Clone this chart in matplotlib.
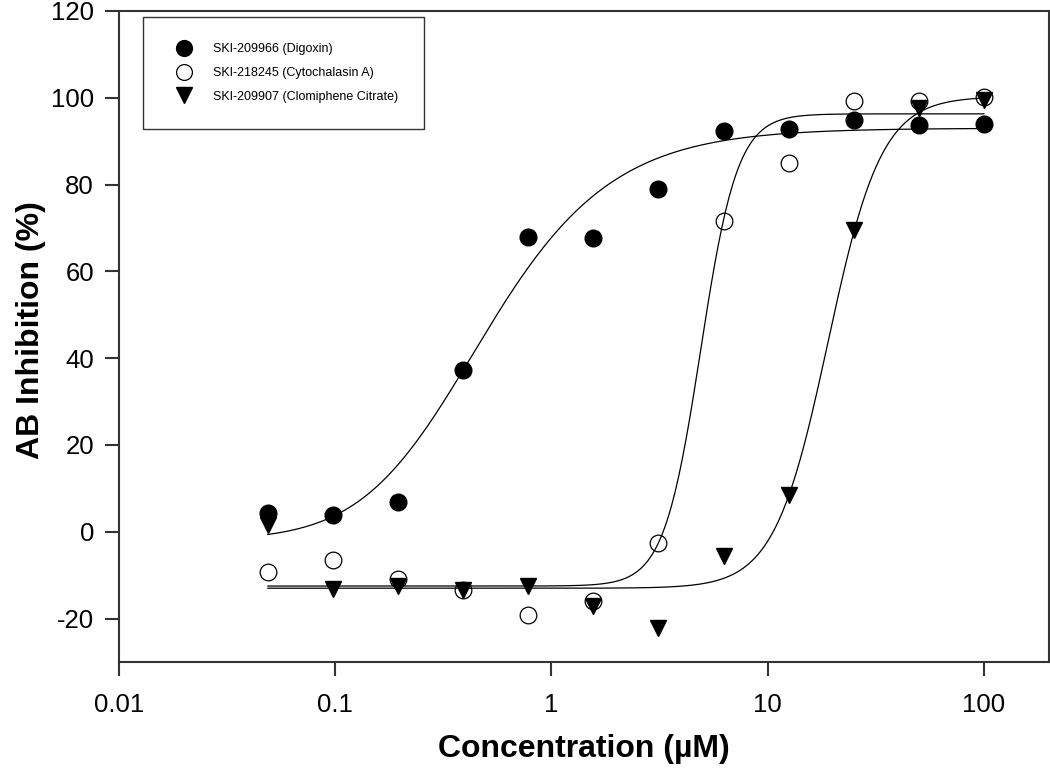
import numpy as np
import matplotlib
matplotlib.use("Agg")
import matplotlib.pyplot as plt

# concentrations (uM), two-fold dilution series
conc = [0.0488, 0.0977, 0.195, 0.39, 0.78, 1.5625, 3.125, 6.25, 12.5, 25, 50, 100]

digoxin = [4.4, 3.8, 6.8, 37.2, 68.0, 67.7, 79.0, 92.3, 92.9, 94.8, 93.8, 94.0]
cytochalasin = [-9.3, -6.4, -10.8, -13.5, -19.1, -16.0, -2.6, 71.6, 84.9, 99.2, 99.2, 100.2]
clomiphene = [1.5, -13.1, -12.4, -13.5, -12.5, -17.0, -22.2, -5.5, 8.4, 69.6, 97.6, 99.6]

labels = ["SKI-209966 (Digoxin)", "SKI-218245 (Cytochalasin A)",
          "SKI-209907 (Clomiphene Citrate)"]

# sigmoid fit parameters: bottom, top, ec50, hill, asym
fit_digoxin = [-2.0, 93.0, 0.275, 1.3, 1.8]
fit_cytochalasin = [-12.5, 96.3, 4.9, 5.1, 1.0]
fit_clomiphene = [-13.0, 100.3, 19.0, 3.5, 1.0]


def sigmoid(x, p):
    bottom, top, ec50, hill, asym = p
    return bottom + (top - bottom) / (1.0 + (ec50 / x) ** hill) ** asym


plt.rcParams['font.family'] = ['Liberation Sans', 'DejaVu Sans']
plt.rcParams['axes.unicode_minus'] = False

fig = plt.figure(figsize=(10.5, 7.76), dpi=100)
ax = fig.add_axes([119 / 1050, 1 - 662 / 776, 930 / 1050, 651 / 776])

xs = np.logspace(np.log10(conc[0]), np.log10(conc[-1]), 400)
for p in (fit_digoxin, fit_cytochalasin, fit_clomiphene):
    ax.plot(xs, sigmoid(xs, p), color='black', lw=0.9, zorder=2)

ax.plot(conc, digoxin, 'o', ms=12, mfc='black', mec='black', ls='none',
        label=labels[0], zorder=3)
ax.plot(conc, cytochalasin, 'o', ms=12, mfc='none', mec='black', mew=0.9,
        ls='none', label=labels[1], zorder=3)
ax.plot(conc, clomiphene, 'v', ms=12, mfc='black', mec='black', ls='none',
        label=labels[2], zorder=4)

ax.set_xscale('log')
ax.set_xlim(0.01, 200)
ax.set_ylim(-30, 120)
ax.set_xticks([0.01, 0.1, 1, 10, 100])
ax.set_xticklabels(["0.01", "0.1", "1", "10", "100"])
ax.xaxis.set_minor_locator(matplotlib.ticker.NullLocator())
ax.set_yticks(np.arange(-20, 121, 20))

for s in ax.spines.values():
    s.set_color('#333333')
    s.set_linewidth(1.5)
ax.tick_params(axis='both', direction='out', length=10, width=1.5,
               color='#333333', labelsize=18.5, top=False, right=False)
ax.tick_params(axis='x', pad=12)
ax.tick_params(axis='y', pad=8)

fig.text(584 / 1050, 1 - 749 / 776, "Concentration (\u00b5M)", ha='center',
         va='center', fontsize=23, fontweight='bold')
fig.text(31 / 1050, 1 - 330 / 776, "AB Inhibition (%)", ha='center',
         va='center', rotation=90, fontsize=23, fontweight='bold')

leg = ax.legend(loc='upper left', bbox_to_anchor=(0.0258, 0.991),
                borderaxespad=0, fontsize=9, frameon=True, fancybox=False,
                borderpad=2.1, labelspacing=0.95, handlelength=2.3,
                handletextpad=1.2, markerscale=0.95)
leg.get_frame().set_edgecolor('black')
leg.get_frame().set_linewidth(1.0)

fig.savefig("out.png", dpi=100)
